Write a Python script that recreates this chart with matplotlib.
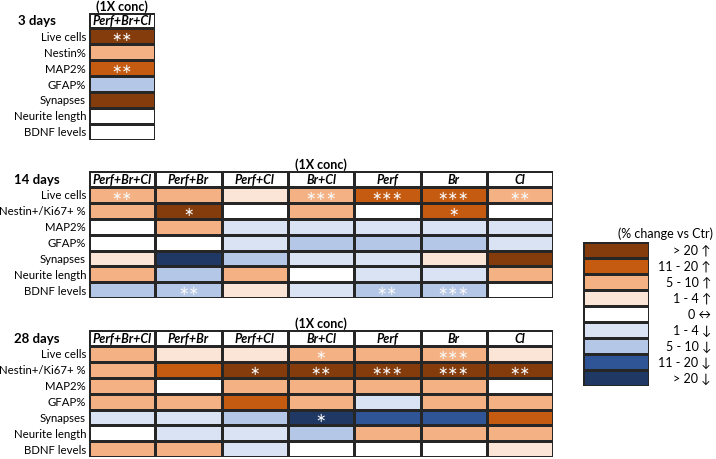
import numpy as np
import matplotlib
matplotlib.use("Agg")
import matplotlib.pyplot as plt
from matplotlib.colors import ListedColormap, BoundaryNorm
from matplotlib import transforms

plt.rcParams['font.family'] = ['Lato', 'DejaVu Sans']

# data
rows_3d = ["Live cells", "Nestin%", "MAP2%", "GFAP%", "Synapses", "Neurite length", "BDNF levels"]
rows = ["Live cells", "Nestin+/Ki67+ %", "MAP2%", "GFAP%", "Synapses", "Neurite length", "BDNF levels"]
cols_3d = ["Perf+Br+Cl"]
cols = ["Perf+Br+Cl", "Perf+Br", "Perf+Cl", "Br+Cl", "Perf", "Br", "Cl"]

# change level: 4 = >20 up ... 0 = no change ... -4 = >20 down
day3_level = [[4], [2], [3], [-2], [4], [0], [0]]
day3_stars = [[2], [0], [2], [0], [0], [0], [0]]

day14_level = [[2, 2, 1, 2, 3, 3, 2],
               [2, 4, 0, 2, 0, 3, 0],
               [0, 2, -1, -1, -1, -1, -1],
               [0, 0, -1, -2, -2, -2, -1],
               [1, -4, -2, -1, -1, 1, 4],
               [2, -2, 2, 0, -1, -1, 2],
               [-2, -2, 1, -1, -2, -2, 0]]
day14_stars = [[2, 0, 0, 3, 3, 3, 2],
               [0, 1, 0, 0, 0, 1, 0],
               [0, 0, 0, 0, 0, 0, 0],
               [0, 0, 0, 0, 0, 0, 0],
               [0, 0, 0, 0, 0, 0, 0],
               [0, 0, 0, 0, 0, 0, 0],
               [0, 2, 0, 0, 2, 3, 0]]

day28_level = [[2, 1, 1, 2, 2, 2, 1],
               [2, 3, 4, 4, 4, 4, 4],
               [2, 0, 2, 2, 2, 2, 0],
               [2, 2, 3, 2, -1, 2, 2],
               [-1, -1, -2, -4, -3, -3, 3],
               [0, -1, -1, -2, 2, 2, 2],
               [2, 2, -1, 0, 0, 0, 1]]
day28_stars = [[0, 0, 0, 1, 0, 3, 0],
               [0, 0, 1, 2, 3, 3, 2],
               [0, 0, 0, 0, 0, 0, 0],
               [0, 0, 0, 0, 0, 0, 0],
               [0, 0, 0, 1, 0, 0, 0],
               [0, 0, 0, 0, 0, 0, 0],
               [0, 0, 0, 0, 0, 0, 0]]

legend_levels = [4, 3, 2, 1, 0, -1, -2, -3, -4]
legend_labels = ["> 20 \u2191", "11 - 20 \u2191", "5 - 10 \u2191", "1 - 4 \u2191", "0 \u2194",
                 "1 - 4 \u2193", "5 - 10 \u2193", "11 - 20 \u2193", "> 20 \u2193"]

colors = ['#203864', '#2F5597', '#B4C7E7', '#DAE3F3', '#FFFFFF',
          '#FBE5D6', '#F4B183', '#C55A11', '#843C0C']
cmap = ListedColormap(colors)
norm = BoundaryNorm(np.arange(-4.5, 5.5, 1), cmap.N)

W, H = 716, 460
fig = plt.figure(figsize=(W / 100, H / 100), dpi=100)
edge = '#262626'
colw, rowh = 66.3, 15.9


def px_axes(left, top, width, height):
    return fig.add_axes([left / W, 1 - (top + height) / H, width / W, height / H])


def draw_table(top, day_label, row_names, col_names, level, stars):
    nr, nc = len(row_names), len(col_names)
    ax = px_axes(89, top, nc * colw, (nr + 1) * rowh)
    grid = np.vstack([np.zeros((1, nc)), np.array(level)])
    ax.pcolormesh(grid, cmap=cmap, norm=norm, edgecolors=edge, linewidth=0.9)
    ax.set_xlim(0, nc)
    ax.set_ylim(nr + 1, 0)
    ax.axis('off')
    for j, c in enumerate(col_names):
        ax.text(j + 0.5, 0.5, c, ha='center', va='center', fontsize=9,
                fontweight='bold', fontstyle='italic')
    trans = transforms.blended_transform_factory(fig.transFigure, ax.transData)
    for i, r in enumerate(row_names):
        ax.text(86 / W, i + 1.5, r, ha='right', va='center', fontsize=8.2, transform=trans)
        for j in range(nc):
            n = stars[i][j]
            if n:
                ax.text(j + 0.5, i + 1.5, "\u2217" * n, ha='center', va='center',
                        fontsize=9, color='#f8f8f8')
    ax.text(0.5 * nc, -0.45, "(1X conc)", ha='center', va='center', fontsize=9, fontweight='bold')
    ax.text(37 / W, 0.5, day_label, ha='center', va='center', fontsize=9.5,
            fontweight='bold', transform=trans)
    return ax


draw_table(13.5, "3 days", rows_3d, cols_3d, day3_level, day3_stars)
draw_table(172, "14 days", rows, cols, day14_level, day14_stars)
draw_table(331, "28 days", rows, cols, day28_level, day28_stars)

# legend
lax = px_axes(583, 243, 66, 144)
lax.pcolormesh(np.array(legend_levels)[:, None], cmap=cmap, norm=norm,
               edgecolors=edge, linewidth=0.9)
lax.set_xlim(0, 1)
lax.set_ylim(len(legend_levels), 0)
lax.axis('off')
ltrans = transforms.blended_transform_factory(fig.transFigure, lax.transData)
for i, lab in enumerate(legend_labels):
    lax.text(711 / W, i + 0.5, lab, ha='right', va='center', fontsize=9, transform=ltrans)
lax.text(713 / W, -0.55, "(% change vs Ctr)", ha='right', va='center', fontsize=9, transform=ltrans)

fig.savefig("out.png", dpi=100)
